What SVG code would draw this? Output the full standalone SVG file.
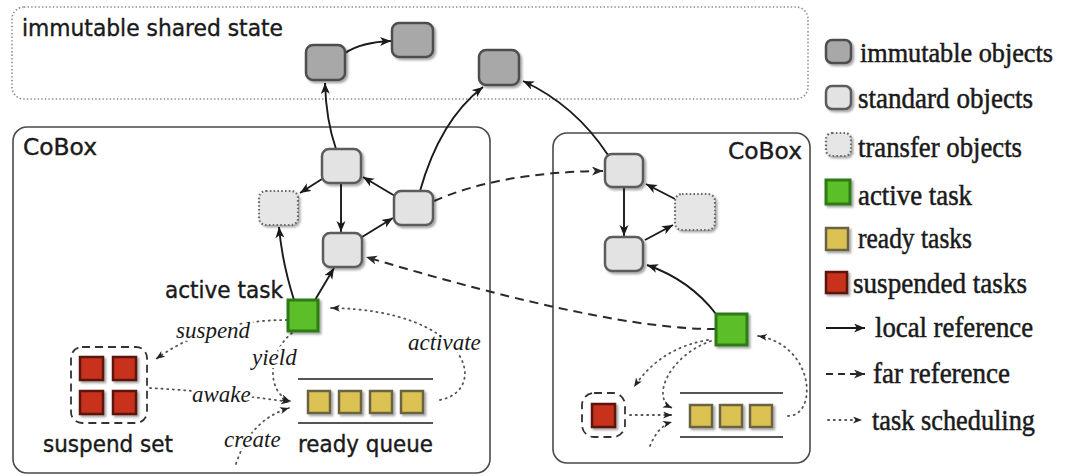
<svg xmlns="http://www.w3.org/2000/svg" width="1067" height="476" viewBox="0 0 1067 476">
<defs>
<filter id="sh" x="-30%" y="-30%" width="160%" height="160%">
<feDropShadow dx="2" dy="2" stdDeviation="1" flood-color="#000" flood-opacity="0.35"/>
</filter>
<marker id="ah" markerUnits="userSpaceOnUse" markerWidth="14" markerHeight="12" refX="11" refY="4.5" orient="auto">
<path d="M0,0 L11,4.5 L0,9 L3,4.5 z" fill="#1a1a1a"/>
</marker>
<marker id="ahd" markerUnits="userSpaceOnUse" markerWidth="14" markerHeight="12" refX="11" refY="4.5" orient="auto">
<path d="M0,0 L11,4.5 L0,9 L3,4.5 z" fill="#2a2a2a"/>
</marker>
<marker id="aht" markerUnits="userSpaceOnUse" markerWidth="12" markerHeight="10" refX="9" refY="3.5" orient="auto">
<path d="M0,0 L9,3.5 L0,7 L2.5,3.5 z" fill="#222"/>
</marker>
</defs>
<style>
.imm{fill:#a8a8a8;stroke:#4e4e4e;stroke-width:2.5;filter:url(#sh)}
.std{fill:#e3e3e3;stroke:#5c5c5c;stroke-width:2.5;filter:url(#sh)}
.trf{fill:#e6e6e6;stroke:#6a6a6a;stroke-width:2.2;stroke-dasharray:1.6 2.2;filter:url(#sh)}
.act{fill:#5cbf2c;stroke:#2d7a12;stroke-width:3;filter:url(#sh)}
.rdy{fill:#dcc252;stroke:#6b6343;stroke-width:2.5;filter:url(#sh)}
.sus{fill:#c8321e;stroke:#5a1208;stroke-width:2.5;filter:url(#sh)}
.box{fill:none;stroke:#4a4a4a;stroke-width:1.6}
.sh{fill:none;stroke:#8a8a8a;stroke-width:1.6;stroke-dasharray:1.4 2.2}
.set{fill:none;stroke:#333;stroke-width:1.8;stroke-dasharray:8 5}
.qline{stroke:#555;stroke-width:2}
.loc{fill:none;stroke:#1a1a1a;stroke-width:1.9;marker-end:url(#ah)}
.far{fill:none;stroke:#2a2a2a;stroke-width:2;stroke-dasharray:9 6;marker-end:url(#ahd)}
.tsk{fill:none;stroke:#555;stroke-width:1.8;stroke-dasharray:1.2 4.5;stroke-linecap:round;marker-end:url(#aht)}
.sans{font-family:"DejaVu Sans","Liberation Sans",sans-serif;font-size:23px;fill:#1a1a1a;stroke:#1a1a1a;stroke-width:0.4}
.it{font-family:"Liberation Serif","Times New Roman",serif;font-style:italic;font-size:23px;fill:#1a1a1a;stroke:#fff;stroke-width:6;paint-order:stroke;stroke-linejoin:round}
.leg{font-family:"Liberation Serif","Times New Roman",serif;font-size:29px;fill:#1a1a1a;stroke:#1a1a1a;stroke-width:0.5}
</style>

<g id="immutable-shared-state">
<rect x="12" y="7" width="796" height="92" rx="12" class="sh"/>
<text x="22" y="36" class="sans" textLength="261" lengthAdjust="spacingAndGlyphs">immutable shared state</text>
</g>
<g id="cobox-left">
<rect x="13" y="127" width="477" height="346" rx="14" class="box"/>
<text x="23" y="155" class="sans" textLength="74" lengthAdjust="spacingAndGlyphs">CoBox</text>
</g>
<g id="cobox-right">
<rect x="553" y="133" width="257" height="330" rx="14" class="box"/>
<text x="728" y="159" class="sans" textLength="74" lengthAdjust="spacingAndGlyphs">CoBox</text>
</g>

<g id="connectors">
<path class="loc" d="M345,53 Q362,42 391,41"/>
<path class="loc" d="M336,149 Q326,120 325,83"/>
<path class="loc" d="M420,191 Q440,120 483,87"/>
<path class="loc" d="M322,179 L300,193"/>
<path class="loc" d="M341,183 L341,232"/>
<path class="loc" d="M395,196 L363,177"/>
<path class="loc" d="M362,237 L393,218"/>
<path class="loc" d="M294,300 Q282,262 279,227"/>
<path class="loc" d="M315,300 L334,268"/>
<path class="far" d="M434,201 Q500,172 603,171"/>
<path class="far" d="M716,329 Q610,330 366,257"/>
<path class="loc" d="M608,155 Q575,105 523,81"/>
<path class="loc" d="M624,188 L624,236"/>
<path class="loc" d="M675,199 L646,184"/>
<path class="loc" d="M645,240 L673,225"/>
<path class="loc" d="M716,314 Q690,280 647,265"/>
<path class="tsk" d="M708,340 Q660,348 634,387"/>
<path class="tsk" d="M711,341 C670,355 650,398 672,408"/>
<path class="tsk" d="M630,415 L672,415"/>
<path class="tsk" d="M650,446 Q658,426 672,422"/>
<path class="tsk" d="M788,416 C818,416 815,345 758,336"/>
<path class="tsk" d="M287,320 Q210,320 156,359"/>
<path class="tsk" d="M292,333 C268,352 266,392 290,401"/>
<path class="tsk" d="M150,388 Q220,392 290,402"/>
<path class="tsk" d="M236,464 Q250,420 289,408"/>
<path class="tsk" d="M440,400 C490,390 470,310 331,308"/>
</g>

<g id="obj-imm-a"><rect x="306" y="45" width="39" height="35" rx="7" class="imm"/></g>
<g id="obj-imm-b"><rect x="392" y="23" width="41" height="34" rx="7" class="imm"/></g>
<g id="obj-imm-c"><rect x="479" y="50" width="40" height="35" rx="7" class="imm"/></g>
<g id="obj-std-s1"><rect x="322" y="149" width="39" height="34" rx="7" class="std"/></g>
<g id="obj-trf-t1"><rect x="259" y="191" width="39" height="34" rx="7" class="trf"/></g>
<g id="obj-std-s2"><rect x="394" y="191" width="39" height="34" rx="7" class="std"/></g>
<g id="obj-std-s3"><rect x="323" y="233" width="39" height="34" rx="7" class="std"/></g>
<g id="obj-std-r1"><rect x="605" y="154" width="38" height="33" rx="7" class="std"/></g>
<g id="obj-trf-rt"><rect x="675" y="194" width="40" height="36" rx="7" class="trf"/></g>
<g id="obj-std-r2"><rect x="605" y="237" width="38" height="34" rx="7" class="std"/></g>

<g id="active-task-left">
<rect x="288" y="300" width="30" height="31" class="act"/>
<text x="165" y="298" class="sans" textLength="118" lengthAdjust="spacingAndGlyphs">active task</text>
</g>
<g id="suspend-set">
<rect x="71" y="347" width="76" height="76" rx="11" class="set"/>
<rect x="80" y="357" width="23" height="23" class="sus"/>
<rect x="113" y="357" width="23" height="23" class="sus"/>
<rect x="80" y="391" width="23" height="23" class="sus"/>
<rect x="113" y="391" width="23" height="23" class="sus"/>
<text x="43" y="452" class="sans" textLength="130" lengthAdjust="spacingAndGlyphs">suspend set</text>
</g>
<g id="ready-queue">
<line x1="298" y1="379" x2="433" y2="379" class="qline"/>
<line x1="298" y1="423" x2="433" y2="423" class="qline"/>
<rect x="308" y="391" width="22" height="22" class="rdy"/>
<rect x="339" y="391" width="22" height="22" class="rdy"/>
<rect x="370" y="391" width="22" height="22" class="rdy"/>
<rect x="401" y="391" width="22" height="22" class="rdy"/>
<text x="298" y="452" class="sans" textLength="135" lengthAdjust="spacingAndGlyphs">ready queue</text>
</g>
<g id="sched-labels">
<text x="176" y="338" class="it">suspend</text>
<text x="252" y="365" class="it">yield</text>
<text x="192" y="402" class="it">awake</text>
<text x="224" y="447" class="it">create</text>
<text x="408" y="350" class="it">activate</text>
</g>

<g id="active-task-right"><rect x="716" y="314" width="31" height="31" class="act"/></g>
<g id="suspend-set-right">
<rect x="582" y="393" width="43" height="44" rx="12" class="set"/>
<rect x="592" y="404" width="23" height="23" class="sus"/>
</g>
<g id="ready-queue-right">
<line x1="680" y1="393" x2="783" y2="393" class="qline"/>
<line x1="680" y1="437" x2="783" y2="437" class="qline"/>
<rect x="690" y="405" width="22" height="22" class="rdy"/>
<rect x="720" y="405" width="22" height="22" class="rdy"/>
<rect x="750" y="405" width="22" height="22" class="rdy"/>
</g>

<g id="legend">
<rect x="826" y="40" width="25" height="23" rx="6" class="imm"/>
<text x="860" y="62" class="leg" style="font-size:27px" textLength="193" lengthAdjust="spacingAndGlyphs">immutable objects</text>
<rect x="826" y="86" width="25" height="23" rx="6" class="std"/>
<text x="858" y="108" class="leg" textLength="175" lengthAdjust="spacingAndGlyphs">standard objects</text>
<rect x="826" y="133" width="25" height="23" rx="6" class="trf"/>
<text x="858" y="157" class="leg" textLength="164" lengthAdjust="spacingAndGlyphs">transfer objects</text>
<rect x="826" y="180" width="24" height="24" class="act"/>
<text x="858" y="205" class="leg" textLength="114" lengthAdjust="spacingAndGlyphs">active task</text>
<rect x="826" y="228" width="22" height="22" class="rdy"/>
<text x="858" y="248" class="leg" textLength="114" lengthAdjust="spacingAndGlyphs">ready tasks</text>
<rect x="826" y="272" width="21" height="21" class="sus"/>
<text x="853" y="293" class="leg" textLength="174" lengthAdjust="spacingAndGlyphs">suspended tasks</text>
<path class="loc" d="M826,328 L865,328"/>
<text x="875" y="337" class="leg" textLength="158" lengthAdjust="spacingAndGlyphs">local reference</text>
<path class="far" d="M826,374 L865,374" style="stroke-dasharray:7 5"/>
<text x="873" y="383" class="leg" textLength="137" lengthAdjust="spacingAndGlyphs">far reference</text>
<path class="tsk" d="M828,420 L862,420"/>
<text x="872" y="430" class="leg" textLength="163" lengthAdjust="spacingAndGlyphs">task scheduling</text>
</g>
</svg>
